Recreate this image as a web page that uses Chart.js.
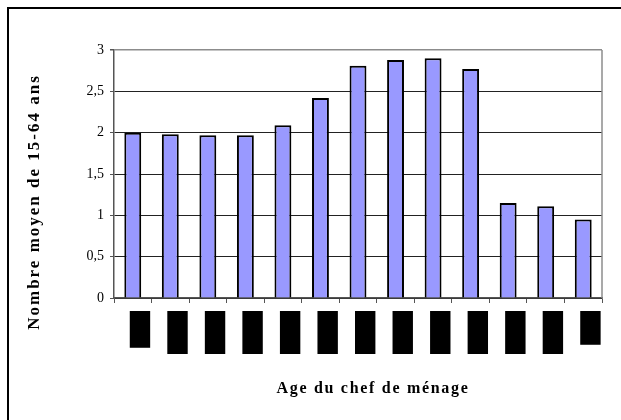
<!DOCTYPE html>
<html>
<head>
<meta charset="utf-8">
<script src="https://cdn.jsdelivr.net/npm/chart.js@4.4.0/dist/chart.umd.min.js"></script>
<style>
html, body { margin: 0; padding: 0; background: #fff; }
#wrap { width: 621px; height: 420px; position: relative; }
</style>
</head>
<body>
<div id="wrap"><canvas id="chart"></canvas></div>
<script>
// data
const ageGroups = ["< 25", "25-29", "30-34", "35-39", "40-44", "45-49", "50-54",
                   "55-59", "60-64", "65-69", "70-74", "75-79", "80+"];
const meanWorkingAge = [2.00, 1.98, 1.97, 1.97, 2.09, 2.42, 2.81, 2.88, 2.90, 2.77, 1.15, 1.11, 0.95];
const yMin = 0, yMax = 3, yStep = 0.5;
const yTitle = "Nombre moyen de 15-64 ans";
const xTitle = "Age du chef de ménage";

const serif = "'Liberation Serif', 'Times New Roman', serif";

// frame, plot right edge and axis titles
const decor = {
  id: 'decor',
  beforeDraw(chart) {
    const ctx = chart.ctx;
    ctx.save();
    ctx.fillStyle = '#000';
    ctx.fillRect(7, 7, 614, 2);
    ctx.fillRect(7, 7, 2, 413);
    ctx.restore();
  },
  afterDraw(chart) {
    const ctx = chart.ctx;
    const a = chart.chartArea;
    ctx.save();
    ctx.strokeStyle = '#8c8c8c';
    ctx.lineWidth = 1.5;
    ctx.beginPath();
    ctx.moveTo(a.right, a.top);
    ctx.lineTo(a.right, a.bottom);
    ctx.stroke();

    ctx.fillStyle = '#000';
    ctx.textAlign = 'center';
    ctx.textBaseline = 'middle';
    ctx.font = "bold 16px " + serif;
    ctx.letterSpacing = '1.7px';
    ctx.fillText(xTitle, 373, 389);
    ctx.font = "bold 17px " + serif;
    ctx.letterSpacing = '2px';
    ctx.translate(35, 202);
    ctx.rotate(-Math.PI / 2);
    ctx.fillText(yTitle, 0, 0);
    ctx.restore();
  }
};

new Chart(document.getElementById('chart'), {
  type: 'bar',
  data: {
    labels: ageGroups,
    datasets: [{
      data: meanWorkingAge,
      backgroundColor: '#9999ff',
      borderColor: '#000',
      borderWidth: 2,
      barPercentage: 0.45,
      categoryPercentage: 1
    }]
  },
  options: {
    responsive: true,
    maintainAspectRatio: false,
    devicePixelRatio: 1,
    animation: false,
    layout: { padding: { top: 50, right: 19, left: 74, bottom: 62 } },
    plugins: { legend: { display: false }, tooltip: { enabled: false } },
    scales: {
      x: {
        afterFit: (s) => { s.height = 60; },
        grid: { drawOnChartArea: false, drawTicks: true, tickLength: 5, tickColor: '#555', offset: true },
        border: { color: '#555', width: 1.5 },
        ticks: {
          autoSkip: false,
          minRotation: 90,
          maxRotation: 90,
          color: '#000',
          font: { family: serif, size: 12 },
          padding: 11,
          showLabelBackdrop: true,
          backdropColor: '#000',
          backdropPadding: { top: 3, bottom: 3, left: 12, right: 3 }
        }
      },
      y: {
        min: yMin,
        max: yMax,
        afterFit: (s) => { s.width = 40; },
        grid: {
          color: (c) => c.tick && c.tick.value === yMax ? '#8c8c8c' : '#222',
          lineWidth: (c) => c.tick && c.tick.value === yMax ? 1.5 : 1,
          tickLength: 4,
          tickColor: '#555'
        },
        border: { color: '#555', width: 1.5 },
        ticks: {
          stepSize: yStep,
          color: '#000',
          padding: 6,
          font: { family: serif, size: 14 },
          callback: (v) => String(v).replace('.', ',')
        }
      }
    }
  },
  plugins: [decor]
});
</script>
</body>
</html>
